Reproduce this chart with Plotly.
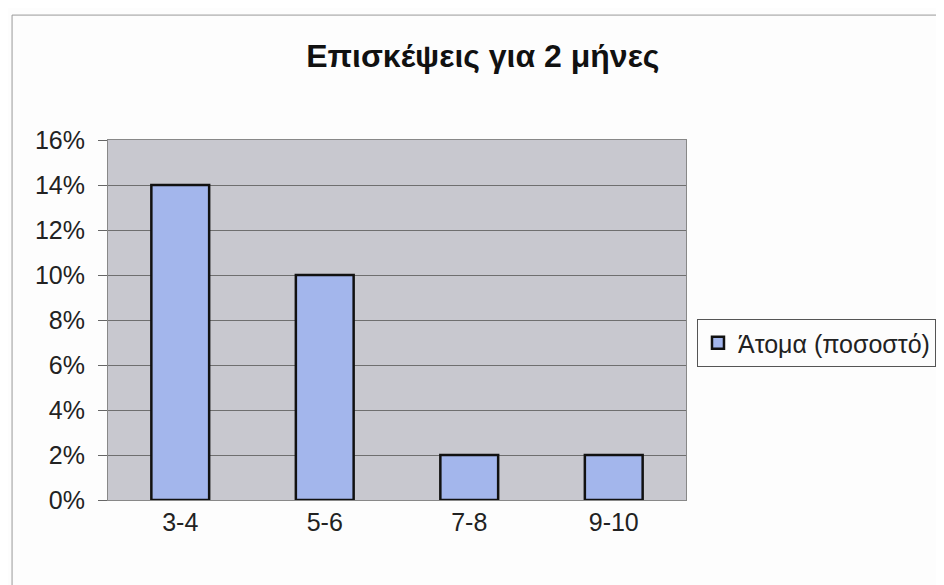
import plotly.graph_objects as go

categories = ["3-4", "5-6", "7-8", "9-10"]
values = [0.14, 0.10, 0.02, 0.02]
series_name = "Άτομα (ποσοστό)"
title = "Επισκέψεις για 2 μήνες"
y_ticks = [0, 0.02, 0.04, 0.06, 0.08, 0.10, 0.12, 0.14, 0.16]

fig = go.Figure()
fig.add_trace(go.Bar(
    x=categories, y=values, name=series_name,
    marker=dict(color="#a3b6ec", line=dict(color="#111111", width=2.5)),
    showlegend=True,
))

fig.update_layout(
    width=944, height=577,
    margin=dict(l=100, r=266, t=132, b=85, autoexpand=False),
    paper_bgcolor="#fdfdfd",
    plot_bgcolor="#c8c8cf",
    font=dict(family="Liberation Sans, Arial, sans-serif", size=25, color="#222222"),
    title=dict(text="<b>" + title + "</b>", x=0.503, xanchor="center", y=0.918, yanchor="middle",
               font=dict(size=32, color="#111111")),
    bargap=0.6,
    showlegend=True,
    legend=dict(x=1.019, xanchor="left", y=0.436, yanchor="middle",
                bordercolor="#555555", borderwidth=1, bgcolor="#fdfdfd",
                font=dict(size=25, color="#222222"), itemwidth=30),
    xaxis=dict(showgrid=False, showline=True, linecolor="#888888", linewidth=1, mirror=True,
               ticks="", tickfont=dict(size=25)),
    yaxis=dict(range=[0, 0.16], tickvals=y_ticks, tickformat=".0%",
               showgrid=True, gridcolor="#6f6f6f", gridwidth=1,
               showline=True, linecolor="#888888", linewidth=1, mirror=True,
               ticks="outside", ticklen=9, tickcolor="#666666", zeroline=False,
               ticklabelstandoff=8, tickfont=dict(size=25)),
)

fig.add_shape(type="rect", xref="paper", yref="paper",
              x0=-0.166, x1=1.5, y0=-0.3, y1=1.347,
              line=dict(color="#999999", width=1), fillcolor="rgba(0,0,0,0)", layer="below")

fig.write_html("out.html")
